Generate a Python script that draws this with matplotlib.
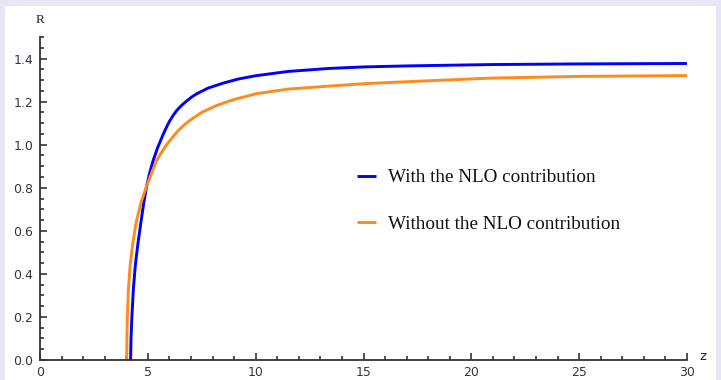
import matplotlib.pyplot as plt
from matplotlib.patches import Rectangle
from matplotlib.ticker import MultipleLocator

# values
z_nlo = [4.2, 4.22, 4.26, 4.33, 4.42, 4.54, 4.68, 4.82, 4.95, 5.1, 5.25, 5.45, 5.72, 5.86, 6.0, 6.17,
         6.34, 6.57, 6.8, 7.03, 7.26, 7.8, 8.5, 9.2, 10.0, 11.5, 13.4, 15.0, 17.15, 20.9, 25.0, 30.0]
r_nlo = [0.0, 0.1, 0.2, 0.33, 0.44, 0.54, 0.64, 0.735, 0.81, 0.875, 0.927, 0.985, 1.05, 1.08, 1.108, 1.135,
         1.159, 1.183, 1.203, 1.221, 1.236, 1.263, 1.286, 1.305, 1.32, 1.34, 1.354, 1.361, 1.366, 1.372,
         1.375, 1.377]

z_lo = [4.02, 4.03, 4.05, 4.1, 4.18, 4.3, 4.46, 4.68, 4.95, 5.18, 5.41, 5.67, 5.85, 6.03, 6.24, 6.45,
        6.7, 6.95, 7.5, 8.19, 9.0, 10.05, 11.5, 13.4, 15.0, 17.15, 20.9, 25.0, 30.0]
r_lo = [0.0, 0.1, 0.2, 0.33, 0.44, 0.54, 0.64, 0.73, 0.81, 0.87, 0.927, 0.97, 0.997, 1.02, 1.046, 1.07,
        1.093, 1.113, 1.15, 1.182, 1.21, 1.237, 1.258, 1.272, 1.283, 1.293, 1.309, 1.317, 1.321]

labels = ["With the NLO contribution", "Without the NLO contribution"]

W, H = 721, 380
fig = plt.figure(figsize=(W / 100, H / 100), dpi=100)
fig.patch.set_facecolor('#e6e6f4')
fig.patches.append(Rectangle((5 / W, 0), (W - 10) / W, (H - 6) / H, transform=fig.transFigure,
                             facecolor='white', edgecolor='none', zorder=-10))

ax = fig.add_axes([40 / W, 1 - 360 / H, (687 - 40) / W, (360 - 37) / H])
ax.set_zorder(5)
ax.patch.set_alpha(0)

ax.plot(z_nlo, r_nlo, color='#0000ff', lw=2.1, label=labels[0], solid_capstyle='butt')
ax.plot(z_lo, r_lo, color='#ff8a1e', lw=2.1, label=labels[1], solid_capstyle='butt')

ax.set_xlim(0, 30)
ax.set_ylim(0, 1.5)
for s in ['top', 'right']:
    ax.spines[s].set_visible(False)
for s in ['left', 'bottom']:
    ax.spines[s].set_color('#333333')
    ax.spines[s].set_linewidth(1.3)

ax.xaxis.set_major_locator(MultipleLocator(5))
ax.xaxis.set_minor_locator(MultipleLocator(1))
ax.yaxis.set_minor_locator(MultipleLocator(0.05))
ax.set_yticks([0, 0.2, 0.4, 0.6, 0.8, 1.0, 1.2, 1.4])
ax.set_yticklabels(['0.0', '0.2', '0.4', '0.6', '0.8', '1.0', '1.2', '1.4'])
ax.tick_params(which='both', direction='in', color='#222222', width=1.1,
               labelsize=9, labelcolor='#333344')
ax.tick_params(which='major', length=5, pad=5)
ax.tick_params(which='minor', length=2.8)
ax.tick_params(axis='x', which='major', pad=4)

fig.text(40 / W, 1 - 20 / H, 'R', fontsize=9.5, family='Liberation Serif',
         ha='center', va='center', color='#222222')
fig.text(703 / W, 1 - 357 / H, 'z', fontsize=9.5, family='DejaVu Sans',
         ha='center', va='center', color='#222222')

leg = ax.legend(loc='upper left', bbox_to_anchor=(357 / W, 1 - 169 / H),
                bbox_transform=fig.transFigure, frameon=False, borderpad=0,
                borderaxespad=0, handlelength=0.98, handletextpad=0.62,
                labelspacing=1.5, prop={'family': 'Liberation Serif', 'size': 13.8})
for t in leg.get_texts():
    t.set_color('#111111')

fig.savefig('out.png', dpi=100)
